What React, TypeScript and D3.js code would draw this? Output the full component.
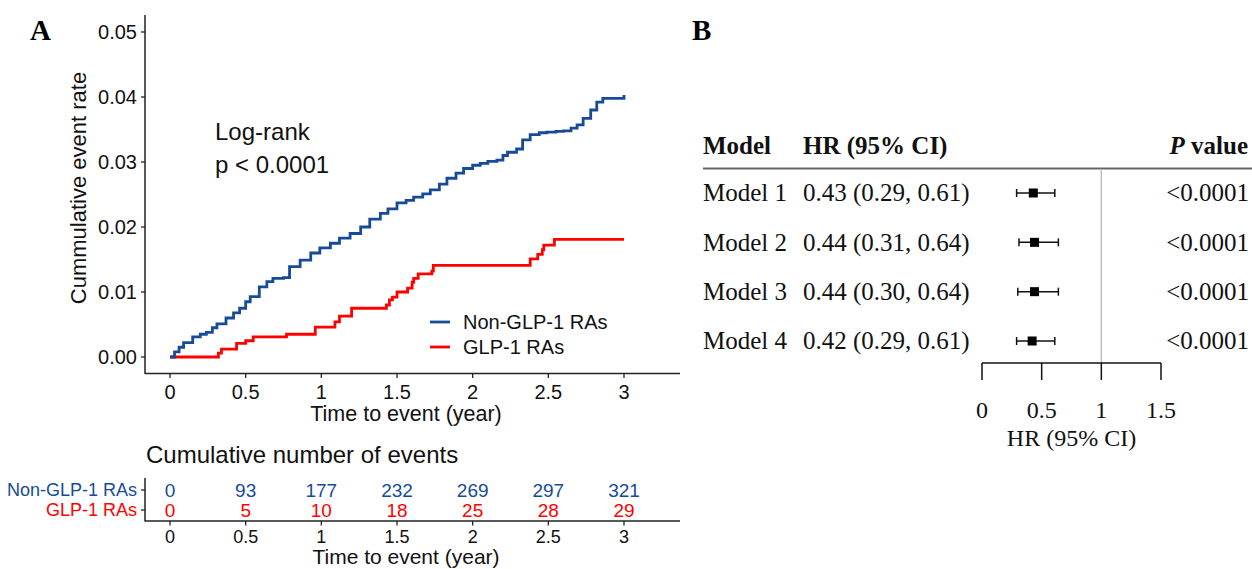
import React from 'react';
import * as d3 from 'd3';

// cumulative event rate (time in years, rate)
const nonGlpCurve: [number, number][] = [
  [0, 0], [0.03, 0.0008], [0.06, 0.0015], [0.09, 0.0022], [0.15, 0.0031], [0.2, 0.0035],
  [0.24, 0.0038], [0.28, 0.0045], [0.31, 0.0051], [0.37, 0.006], [0.42, 0.0068], [0.46, 0.0075],
  [0.5, 0.0085], [0.53, 0.0093], [0.59, 0.0108], [0.64, 0.0116], [0.68, 0.0121], [0.75, 0.0122],
  [0.79, 0.0139], [0.86, 0.0149], [0.93, 0.016], [0.99, 0.0168], [1.06, 0.0175], [1.12, 0.0183],
  [1.19, 0.019], [1.26, 0.02], [1.32, 0.0212], [1.39, 0.0221], [1.44, 0.0228], [1.5, 0.0237],
  [1.56, 0.0241], [1.61, 0.0246], [1.67, 0.0251], [1.72, 0.0257], [1.78, 0.0266], [1.83, 0.0275],
  [1.89, 0.0283], [1.94, 0.029], [2.0, 0.0295], [2.05, 0.0298], [2.1, 0.0301], [2.16, 0.0303],
  [2.2, 0.031], [2.23, 0.0315], [2.29, 0.032], [2.33, 0.0334], [2.38, 0.0342], [2.44, 0.0345],
  [2.49, 0.0346], [2.55, 0.0347], [2.6, 0.0348], [2.65, 0.0352], [2.69, 0.0357], [2.73, 0.0367],
  [2.78, 0.038], [2.82, 0.0392], [2.86, 0.0398], [2.97, 0.0398], [3.0, 0.0403],
];

const glpCurve: [number, number][] = [
  [0, 0], [0.32, 0.0006], [0.34, 0.0012], [0.44, 0.0021], [0.5, 0.0025], [0.55, 0.0031],
  [0.77, 0.0035], [0.96, 0.0046], [1.09, 0.0054], [1.12, 0.0063], [1.2, 0.0075], [1.43, 0.008],
  [1.45, 0.0088], [1.47, 0.0092], [1.5, 0.01], [1.57, 0.0106], [1.6, 0.0115], [1.61, 0.0121],
  [1.64, 0.0128], [1.73, 0.0132], [1.74, 0.0141], [2.38, 0.0151], [2.43, 0.0158], [2.46, 0.0165],
  [2.47, 0.0172], [2.54, 0.0181], [3.0, 0.0181],
];

const riskTimes = [0, 0.5, 1, 1.5, 2, 2.5, 3];
const nonGlpEvents = [0, 93, 177, 232, 269, 297, 321];
const glpEvents = [0, 5, 10, 18, 25, 28, 29];
const yTicks = [0, 0.01, 0.02, 0.03, 0.04, 0.05];

const models = ['Model 1', 'Model 2', 'Model 3', 'Model 4'];
const hrEst = [0.43, 0.44, 0.44, 0.42];
const hrLow = [0.29, 0.31, 0.3, 0.29];
const hrHigh = [0.61, 0.64, 0.64, 0.61];
const pValues = ['<0.0001', '<0.0001', '<0.0001', '<0.0001'];
const hrTicks = [0, 0.5, 1, 1.5];

const BLUE = '#174b97';
const RED = '#ff0000';
const SANS = '"Liberation Sans", Arial, Helvetica, sans-serif';
const SERIF = '"Liberation Serif", "Times New Roman", serif';

export default function App() {
  const width = 1252;
  const height = 569;

  const x = d3.scaleLinear().domain([0, 3]).range([170, 624]);
  const y = d3.scaleLinear().domain([0, 0.05]).range([357, 32]);
  const line = d3.line<[number, number]>()
    .x(d => x(d[0]))
    .y(d => y(d[1]))
    .curve(d3.curveStepAfter);

  const riskY = d3.scalePoint<string>().domain(['Non-GLP-1 RAs', 'GLP-1 RAs']).range([490, 510]);

  const hx = d3.scaleLinear().domain([0, 1.5]).range([982, 1161]);
  const ry = d3.scalePoint<string>().domain(models).range([193, 341]);

  const fmt = d3.format('.2f');

  return (
    <svg width={width} height={height} style={{ position: 'absolute', left: 0, top: 0, background: '#fff' }}>
      {/* Panel A */}
      <text x={30} y={40} fontFamily={SERIF} fontWeight="bold" fontSize={29}>A</text>

      {/* axes */}
      <line x1={145} x2={145} y1={15} y2={374} stroke="#222" strokeWidth={1.5} />
      <line x1={145} x2={680} y1={373.5} y2={373.5} stroke="#222" strokeWidth={1.5} />
      {yTicks.map(t => (
        <g key={t}>
          <line x1={141} x2={145} y1={y(t)} y2={y(t)} stroke="#222" strokeWidth={1.3} />
          <text x={137} y={y(t)} dy="0.36em" textAnchor="end" fontFamily={SANS} fontSize={20} fill="#111">
            {d3.format('.2f')(t)}
          </text>
        </g>
      ))}
      {riskTimes.map(t => (
        <g key={t}>
          <line x1={x(t)} x2={x(t)} y1={373.5} y2={378} stroke="#222" strokeWidth={1.3} />
          <text x={x(t)} y={392} dy="0.36em" textAnchor="middle" fontFamily={SANS} fontSize={20} fill="#111">
            {String(t)}
          </text>
        </g>
      ))}
      <text x={406} y={421} textAnchor="middle" fontFamily={SANS} fontSize={21.5} fill="#111">Time to event (year)</text>
      <text transform="translate(86,188) rotate(-90)" textAnchor="middle" fontFamily={SANS} fontSize={22} fill="#111">
        Cummulative event rate
      </text>

      {/* curves */}
      <path d={line(glpCurve) || ''} fill="none" stroke={RED} strokeWidth={2.8} />
      <path d={line(nonGlpCurve) || ''} fill="none" stroke={BLUE} strokeWidth={2.8} />

      <text x={215} y={140} fontFamily={SANS} fontSize={24} fill="#111">Log-rank</text>
      <text x={215} y={173} fontFamily={SANS} fontSize={24} fill="#111">p &lt; 0.0001</text>

      {/* legend */}
      <line x1={430} x2={450} y1={322} y2={322} stroke={BLUE} strokeWidth={2.8} />
      <text x={463} y={322} dy="0.36em" fontFamily={SANS} fontSize={20} fill="#111">Non-GLP-1 RAs</text>
      <line x1={430} x2={450} y1={347} y2={347} stroke={RED} strokeWidth={2.8} />
      <text x={463} y={347} dy="0.36em" fontFamily={SANS} fontSize={20} fill="#111">GLP-1 RAs</text>

      {/* risk table */}
      <text x={146} y={463} fontFamily={SANS} fontSize={24} fill="#111">Cumulative number of events</text>
      <line x1={145} x2={145} y1={478} y2={521.5} stroke="#222" strokeWidth={1.5} />
      <line x1={145} x2={680} y1={521} y2={521} stroke="#222" strokeWidth={1.5} />
      {riskY.domain().map((label, i) => {
        const color = i === 0 ? BLUE : RED;
        const counts = i === 0 ? nonGlpEvents : glpEvents;
        const yy = riskY(label) as number;
        return (
          <g key={label}>
            <line x1={141} x2={145} y1={yy} y2={yy} stroke="#222" strokeWidth={1.3} />
            <text x={137} y={yy} dy="0.36em" textAnchor="end" fontFamily={SANS} fontSize={18} fill={color}>{label}</text>
            {counts.map((c, j) => (
              <text key={j} x={x(riskTimes[j])} y={yy} dy="0.36em" textAnchor="middle" fontFamily={SANS} fontSize={19} fill={color}>
                {c}
              </text>
            ))}
          </g>
        );
      })}
      {riskTimes.map(t => (
        <g key={'r' + t}>
          <line x1={x(t)} x2={x(t)} y1={521} y2={525.5} stroke="#222" strokeWidth={1.3} />
          <text x={x(t)} y={537} dy="0.36em" textAnchor="middle" fontFamily={SANS} fontSize={18} fill="#111">
            {String(t)}
          </text>
        </g>
      ))}
      <text x={406} y={564} textAnchor="middle" fontFamily={SANS} fontSize={21} fill="#111">Time to event (year)</text>

      {/* Panel B */}
      <text x={692} y={40} fontFamily={SERIF} fontWeight="bold" fontSize={29}>B</text>
      <text x={703} y={154} fontFamily={SERIF} fontWeight="bold" fontSize={25} fill="#111">Model</text>
      <text x={803} y={154} fontFamily={SERIF} fontWeight="bold" fontSize={25} fill="#111">HR (95% CI)</text>
      <text x={1248} y={154} textAnchor="end" fontFamily={SERIF} fontWeight="bold" fontSize={25} fill="#111">
        <tspan fontStyle="italic">P</tspan> value
      </text>
      <line x1={703} x2={1252} y1={168.5} y2={168.5} stroke="#666" strokeWidth={2} />
      <line x1={hx(1)} x2={hx(1)} y1={169} y2={363} stroke="#bdbdbd" strokeWidth={1.5} />

      {models.map((m, i) => {
        const yy = ry(m) as number;
        return (
          <g key={m}>
            <text x={703} y={yy} dy="0.33em" fontFamily={SERIF} fontSize={25} fill="#111">{m}</text>
            <text x={803} y={yy} dy="0.33em" fontFamily={SERIF} fontSize={25} fill="#111">
              {`${fmt(hrEst[i])} (${fmt(hrLow[i])}, ${fmt(hrHigh[i])})`}
            </text>
            <line x1={hx(hrLow[i])} x2={hx(hrHigh[i])} y1={yy} y2={yy} stroke="#111" strokeWidth={1.5} />
            <line x1={hx(hrLow[i])} x2={hx(hrLow[i])} y1={yy - 4} y2={yy + 4} stroke="#111" strokeWidth={1.5} />
            <line x1={hx(hrHigh[i])} x2={hx(hrHigh[i])} y1={yy - 4} y2={yy + 4} stroke="#111" strokeWidth={1.5} />
            <rect x={hx(hrEst[i]) - 4.5} y={yy - 4.5} width={9} height={9} fill="#000" />
            <text x={1249} y={yy} dy="0.33em" textAnchor="end" fontFamily={SERIF} fontSize={25} fill="#111">{pValues[i]}</text>
          </g>
        );
      })}

      <line x1={hx(0)} x2={hx(1.5)} y1={363} y2={363} stroke="#111" strokeWidth={1.5} />
      {hrTicks.map(t => (
        <g key={'h' + t}>
          <line x1={hx(t)} x2={hx(t)} y1={363} y2={380} stroke="#111" strokeWidth={1.5} />
          <text x={hx(t)} y={410} dy="0.33em" textAnchor="middle" fontFamily={SERIF} fontSize={24} fill="#111">{String(t)}</text>
        </g>
      ))}
      <text x={(hx(0) + hx(1.5)) / 2} y={438} dy="0.33em" textAnchor="middle" fontFamily={SERIF} fontSize={24} fill="#111">
        HR (95% CI)
      </text>
    </svg>
  );
}
